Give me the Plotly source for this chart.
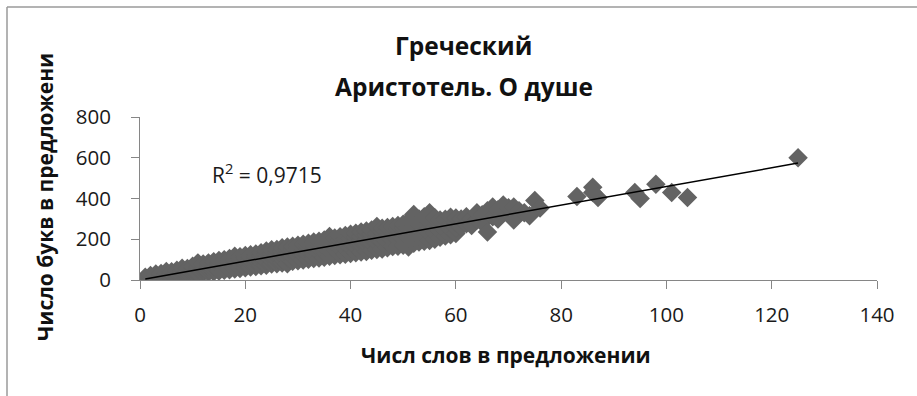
import numpy as np
import plotly.graph_objects as go

# words per sentence (x) and letters per sentence (y)
words = [
    1, 1, 1, 1,
    2, 2, 2, 2,
    3, 3, 3, 3, 3,
    4, 4, 4, 4,
    5, 5, 5, 5, 5,
    6, 6, 6, 6,
    7, 7, 7, 7,
    8, 8, 8, 8, 8,
    9, 9, 9, 9,
    10, 10, 10, 10, 10,
    11, 11, 11, 11, 11,
    12, 12, 12, 12, 12,
    13, 13, 13, 13, 13,
    14, 14, 14, 14, 14,
    15, 15, 15, 15, 15,
    16, 16, 16, 16, 16,
    17, 17, 17, 17, 17,
    18, 18, 18, 18, 18,
    19, 19, 19, 19, 19,
    20, 20, 20, 20, 20,
    21, 21, 21, 21, 21,
    22, 22, 22, 22, 22,
    23, 23, 23, 23, 23,
    24, 24, 24, 24, 24,
    25, 25, 25, 25, 25,
    26, 26, 26, 26, 26,
    27, 27, 27, 27, 27,
    28, 28, 28, 28, 28,
    29, 29, 29, 29, 29,
    30, 30, 30, 30, 30,
    31, 31, 31, 31, 31,
    32, 32, 32, 32, 32,
    33, 33, 33, 33, 33,
    34, 34, 34, 34, 34,
    35, 35, 35, 35, 35,
    36, 36, 36, 36, 36,
    37, 37, 37, 37, 37,
    38, 38, 38, 38, 38,
    39, 39, 39, 39, 39,
    40, 40, 40, 40, 40,
    41, 41, 41, 41, 41,
    42, 42, 42, 42, 42,
    43, 43, 43, 43, 43,
    44, 44, 44, 44, 44,
    45, 45, 45, 45, 45,
    46, 46, 46, 46, 46,
    47, 47, 47, 47, 47,
    48, 48, 48, 48, 48,
    49, 49, 49, 49, 49,
    50, 50, 50, 50, 50,
    51, 51, 51, 51, 51,
    52, 52, 52, 52, 52,
    53, 53, 53, 53, 53,
    54, 54, 54, 54, 54,
    55, 55, 55, 55, 55,
    56, 56, 56, 56, 56,
    57, 57, 57, 57,
    58, 58, 58, 58,
    59, 59, 59, 59,
    60, 60, 60, 60,
    61, 61, 62, 62, 63, 63, 64, 64, 65, 65,
    66, 66, 67, 67, 68, 68, 69, 69, 70, 71, 71,
    72, 73, 74, 75, 76,
    83, 86, 86, 87, 94, 95, 98, 101, 104, 125,
]
letters = [
    3, 6, 9, 14,
    6, 12, 16, 22,
    8, 14, 19, 25, 30,
    12, 20, 25, 32,
    14, 22, 28, 36, 42,
    16, 26, 33, 40,
    20, 30, 38, 48,
    24, 34, 42, 50, 58,
    26, 38, 46, 56,
    30, 42, 50, 60, 68,
    32, 44, 56, 64, 84,
    36, 48, 58, 68, 78,
    38, 52, 64, 74, 84,
    40, 56, 68, 78, 90,
    44, 58, 72, 84, 96,
    48, 62, 76, 88, 100,
    50, 66, 80, 92, 106,
    54, 70, 84, 98, 116,
    56, 74, 88, 102, 114,
    60, 78, 94, 108, 120,
    64, 82, 98, 112, 124,
    66, 86, 102, 116, 128,
    70, 90, 106, 120, 134,
    72, 94, 110, 126, 142,
    78, 98, 116, 130, 148,
    80, 102, 120, 136, 150,
    84, 106, 124, 140, 158,
    80, 110, 130, 146, 162,
    92, 116, 134, 150, 166,
    94, 118, 138, 156, 170,
    98, 122, 142, 160, 176,
    102, 126, 148, 166, 180,
    106, 130, 152, 170, 186,
    108, 134, 156, 176, 190,
    112, 138, 162, 180, 196,
    116, 142, 166, 186, 214,
    120, 148, 170, 190, 206,
    124, 152, 176, 196, 212,
    126, 156, 180, 200, 218,
    130, 160, 184, 204, 224,
    134, 164, 190, 210, 230,
    138, 170, 194, 214, 236,
    140, 174, 198, 220, 240,
    146, 178, 204, 226, 246,
    150, 182, 208, 230, 262,
    152, 186, 212, 236, 254,
    158, 190, 218, 242, 258,
    164, 196, 222, 246, 262,
    166, 200, 226, 252, 268,
    170, 204, 232, 256, 274,
    162, 208, 236, 262, 290,
    180, 214, 242, 268, 322,
    186, 218, 246, 274, 300,
    190, 222, 252, 280, 310,
    194, 228, 256, 284, 330,
    200, 232, 262, 290, 306,
    210, 240, 266, 294,
    216, 244, 272, 298,
    222, 250, 276, 308,
    228, 256, 282, 304,
    262, 300, 276, 310, 300, 268, 295, 330, 320, 282,
    235, 340, 358, 310, 345, 300, 368, 330, 355, 295, 358,
    340, 330, 315, 390, 353,
    410, 455, 430, 405, 430, 400, 470, 430, 405, 600,
]

r2_text = "R<sup>2</sup> = 0,9715"
title_1 = "Греческий"
title_2 = "Аристотель. О душе"
x_title = "Числ слов в предложении"
y_title = "Число букв в предложени"

xa = np.array(words, dtype=float)
ya = np.array(letters, dtype=float)
slope, intercept = np.polyfit(xa, ya, 1)
x_fit = np.array([xa.min(), xa.max()])
y_fit = slope * x_fit + intercept

W, H = 917, 396
L, R, T, B = 140, 40, 117, 116
pw, ph = W - L - R, H - T - B

def px(x):
    return (x - L) / pw

def py(y):
    return (H - B - y) / ph

fig = go.Figure()
fig.add_trace(go.Scatter(
    x=words, y=letters, mode="markers",
    marker=dict(symbol="diamond", size=15, color="#636363", line=dict(width=0)),
    showlegend=False, hoverinfo="skip",
))
fig.add_trace(go.Scatter(
    x=x_fit, y=y_fit, mode="lines",
    line=dict(color="#000000", width=1.5),
    showlegend=False, hoverinfo="skip",
))

FAM = "Open Sans, Noto Sans, sans-serif"
axis_font = dict(family=FAM, size=20.5, color="#1a1a1a")
fig.update_xaxes(
    range=[0, 140], dtick=20, tick0=0,
    showline=True, linecolor="#868686", linewidth=1,
    ticks="outside", ticklen=8, tickcolor="#868686",
    showgrid=False, zeroline=False, tickfont=axis_font,
    ticklabelstandoff=8,
)
fig.update_yaxes(
    range=[0, 800], dtick=200, tick0=0,
    showline=True, linecolor="#868686", linewidth=1,
    ticks="outside", ticklen=8, tickcolor="#868686",
    showgrid=False, zeroline=False, tickfont=axis_font,
    ticksuffix="\u00a0\u00a0\u00a0",
)

bold = dict(family=FAM, size=24.5, color="#111111")
ann = [
    dict(text="<b>%s</b>" % title_1, x=px(463), y=py(45), font=bold),
    dict(text="<b>%s</b>" % title_2, x=px(464), y=py(86), font=bold),
    dict(text="<b>%s</b>" % x_title, x=px(506), y=py(355), font=dict(family=FAM, size=21, color="#111111")),
    dict(text="<b>%s</b>" % y_title, x=px(45), y=py(197), font=dict(family=FAM, size=21, color="#111111"),
         textangle=-90),
    dict(text=r2_text, x=px(267), y=py(173), font=dict(family=FAM, size=21, color="#1a1a1a")),
]
for a in ann:
    a.update(xref="paper", yref="paper", showarrow=False, xanchor="center", yanchor="middle")

shapes = [
    dict(type="line", xref="paper", yref="paper", x0=px(7), x1=px(7), y0=py(7), y1=py(400),
         line=dict(color="#9a9a9a", width=1.5)),
    dict(type="line", xref="paper", yref="paper", x0=px(7), x1=px(920), y0=py(7), y1=py(7),
         line=dict(color="#9a9a9a", width=1.5)),
]

fig.update_layout(
    width=W, height=H,
    margin=dict(l=L, r=R, t=T, b=B),
    paper_bgcolor="white", plot_bgcolor="white",
    annotations=ann, shapes=shapes,
)

fig.write_html("out.html")
